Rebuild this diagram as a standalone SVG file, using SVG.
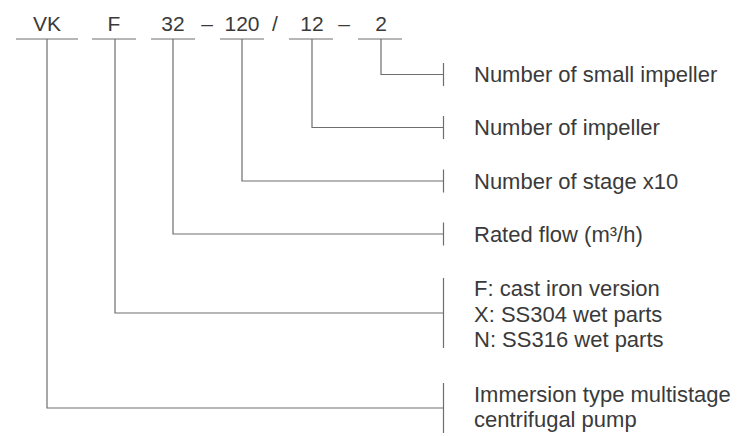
<svg xmlns="http://www.w3.org/2000/svg" width="743" height="436" viewBox="0 0 743 436">
<style>
text{font-family:"Liberation Sans",Arial,sans-serif;fill:#3a3a3a;}
.code{font-size:21px;text-anchor:middle;}
.lbl{font-size:22px;}
.ln{stroke:#6e6e6e;stroke-width:1.2;fill:none;}
</style>
<rect width="743" height="436" fill="#fff"/>
<g id="code">
<text class="code" x="47" y="31">VK</text>
<text class="code" x="114" y="31">F</text>
<text class="code" x="173" y="31">32</text>
<text class="code" x="207" y="31">–</text>
<text class="code" x="242" y="31">120</text>
<text class="code" x="275" y="31">/</text>
<text class="code" x="312" y="31">12</text>
<text class="code" x="344" y="31">–</text>
<text class="code" x="381" y="31">2</text>
</g>
<g id="connectors">
<path class="ln" d="M16 39H78M92 39H136M151 39H195M220 39H264M289 39H333M358 39H402"/>
<path class="ln" d="M381 39V74.5H443.5M443.5 63V86"/>
<path class="ln" d="M312 39V127.5H443.5M443.5 116V139"/>
<path class="ln" d="M242 39V181H443.5M443.5 169.5V192.5"/>
<path class="ln" d="M173 39V234H443.5M443.5 222.5V245.5"/>
<path class="ln" d="M115 39V313H443.5M443.5 278V348"/>
<path class="ln" d="M47 39V408H443.5M443.5 383V433"/>
</g>
<g id="small-impeller"><text class="lbl" x="474" y="81.5">Number of small impeller</text></g>
<g id="impeller"><text class="lbl" x="474" y="135">Number of impeller</text></g>
<g id="stage"><text class="lbl" x="474" y="188.5">Number of stage x10</text></g>
<g id="flow"><text class="lbl" x="474" y="241.5">Rated flow (m³/h)</text></g>
<g id="material"><text class="lbl" x="474" y="296">F: cast iron version</text><text class="lbl" x="474" y="321.5">X: SS304 wet parts</text><text class="lbl" x="474" y="347">N: SS316 wet parts</text></g>
<g id="type"><text class="lbl" x="474" y="401.5">Immersion type multistage</text><text class="lbl" x="474" y="427">centrifugal pump</text></g>
</svg>
